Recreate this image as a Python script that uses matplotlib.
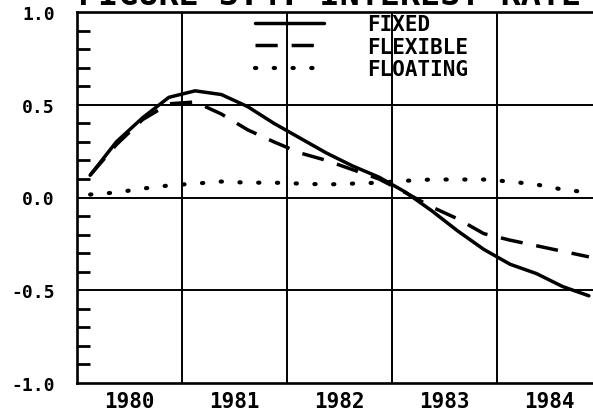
import matplotlib.pyplot as plt
import numpy as np

# quarterly observations, 1980Q1 .. 1984Q4 (plotted at mid-quarter)
quarters = [1980.125, 1980.375, 1980.625, 1980.875,
            1981.125, 1981.375, 1981.625, 1981.875,
            1982.125, 1982.375, 1982.625, 1982.875,
            1983.125, 1983.375, 1983.625, 1983.875,
            1984.125, 1984.375, 1984.625, 1984.875]

fixed = [0.12, 0.30, 0.43, 0.54, 0.575, 0.555, 0.49, 0.40,
         0.32, 0.24, 0.17, 0.11, 0.03, -0.07, -0.18, -0.28,
         -0.36, -0.41, -0.48, -0.53]
flexible = [0.12, 0.285, 0.42, 0.505, 0.515, 0.45, 0.365, 0.30,
            0.24, 0.20, 0.15, 0.10, 0.027, -0.05, -0.115, -0.195,
            -0.23, -0.26, -0.29, -0.32]
floating = [0.016, 0.027, 0.048, 0.065, 0.075, 0.086, 0.08, 0.08,
            0.075, 0.07, 0.075, 0.08, 0.09, 0.097, 0.097, 0.097,
            0.086, 0.07, 0.043, 0.027]

years = [1980, 1981, 1982, 1983, 1984]
y_ticks = [-1.0, -0.5, 0.0, 0.5, 1.0]
y_labels = ['-1.0', '-0.5', '0.0', '0.5', '1.0']
title = "FIGURE 3.4: INTEREST RATE"

plt.rcParams['font.family'] = ['DejaVu Sans Mono']
plt.rcParams['font.weight'] = 'bold'

fig = plt.figure(figsize=(5.93, 4.14), dpi=100)
# the right edge of the plot runs a little past the page
ax = fig.add_axes([77 / 593, 30 / 414, 525 / 593, 371 / 414])

ax.plot(quarters, fixed, color='black', lw=2.5, label='FIXED',
        solid_capstyle='round')
ax.plot(quarters, flexible, color='black', lw=2.5, label='FLEXIBLE',
        linestyle=(0, (6.4, 4.0)), dash_capstyle='butt')
ax.plot(quarters, floating, color='black', lw=3.0, label='FLOATING',
        linestyle=(0, (0.3, 4.2)), dash_capstyle='round')

ax.set_xlim(1980, 1985)
ax.set_ylim(-1, 1)

# grid: year boundaries and every 0.5
for yr in years[1:] + [1985]:
    ax.axvline(yr, color='black', lw=1.4, zorder=1)
for yv in [-0.5, 0.0, 0.5]:
    ax.axhline(yv, color='black', lw=1.4, zorder=1)

ax.set_xticks([y + 0.5 for y in years])
ax.set_xticklabels([str(y) for y in years], fontsize=15, fontweight='bold')
ax.tick_params(axis='x', length=0, pad=6)

ax.set_yticks(y_ticks)
ax.set_yticklabels(y_labels, fontsize=13, fontweight='bold')
ax.tick_params(axis='y', which='major', length=0, pad=16)
minor = [v / 10 for v in range(-9, 10) if v % 5 != 0]
ax.set_yticks(minor, minor=True)
ax.tick_params(axis='y', which='minor', direction='in', length=9.5,
               width=2.0, color='black')

for side in ['left', 'bottom', 'top']:
    ax.spines[side].set_linewidth(1.9)
ax.spines['right'].set_visible(False)

leg = ax.legend(loc='upper left', bbox_to_anchor=(0.335, 1.0),
                frameon=False, borderpad=0.1, borderaxespad=0,
                handlelength=3.3, handletextpad=2.1, labelspacing=0.12,
                prop={'family': 'DejaVu Sans Mono', 'weight': 'bold',
                      'size': 15})

# title sits mostly above the page edge, only its foot shows
fig.text(0.555, 1 - 5 / 414, title, ha='center', va='baseline',
         fontsize=24, fontweight='bold')

fig.savefig('out.png', dpi=100)
